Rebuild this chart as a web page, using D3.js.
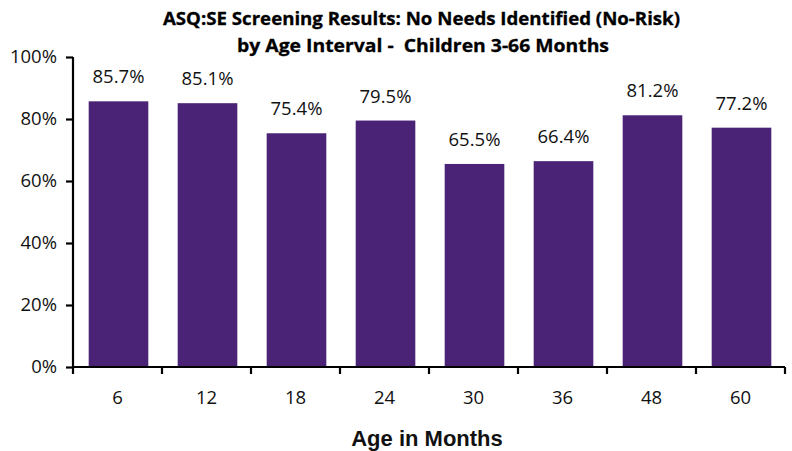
<!DOCTYPE html>
<html><head><meta charset="utf-8">
<script src="https://cdn.jsdelivr.net/npm/d3@7"></script>
<style>body{margin:0;background:#fff}svg{display:block}</style>
</head><body>
<svg id="c" width="792" height="451"></svg>
<script>
const categories = ["6","12","18","24","30","36","48","60"];
const values = [85.7,85.1,75.4,79.5,65.5,66.4,81.2,77.2];
const yTicks = [0,20,40,60,80,100];
const titleLines = ["ASQ:SE Screening Results: No Needs Identified (No-Risk)","by Age Interval -  Children 3-66 Months"];
const xTitle = "Age in Months";

const svg = d3.select("#c");
const m = {l:73, r:785, t:57, b:367};
const x = d3.scaleBand().domain(categories).range([m.l, m.r]).paddingInner(0.33).paddingOuter(0.165);
const y = d3.scaleLinear().domain([0,100]).range([m.b, m.t]);
const font = "'Open Sans', sans-serif";

svg.selectAll("rect.bar").data(values).join("rect")
  .attr("x",(d,i)=>x(categories[i])+1).attr("width",x.bandwidth())
  .attr("y",d=>y(d)).attr("height",d=>y(0)-y(d)).attr("fill","#4a2376");

svg.selectAll("text.val").data(values).join("text")
  .attr("x",(d,i)=>x(categories[i])+1+x.bandwidth()/2).attr("y",d=>y(d)-18)
  .attr("text-anchor","middle").attr("font-family",font).attr("font-size",18.5)
  .attr("fill","#111").text(d=>d.toFixed(1)+"%");

const ya = svg.append("g").attr("transform",`translate(${m.l},0)`)
  .call(d3.axisLeft(y).tickValues(yTicks).tickSize(7).tickPadding(9).tickFormat(d=>d+"%"));
ya.select(".domain").attr("stroke","#000").attr("stroke-width",2.2).attr("d",`M0,${m.t}V${m.b}`);
ya.selectAll(".tick line").attr("stroke-width",2.2);
ya.selectAll("text").attr("font-family",font).attr("font-size",18.5).attr("fill","#111");

const xa = svg.append("g").attr("transform",`translate(0,${m.b})`)
  .call(d3.axisBottom(x).tickSize(0).tickPadding(24));
xa.select(".domain").attr("stroke","#000").attr("stroke-width",2.2).attr("d",`M${m.l},0H${m.r}`);
xa.selectAll("text").attr("font-family",font).attr("font-size",18.5).attr("fill","#111");
const bounds = d3.range(categories.length+1).map(i=>m.l + i*(m.r-m.l)/categories.length);
xa.selectAll("line.bt").data(bounds).join("line").attr("class","bt")
  .attr("x1",d=>d).attr("x2",d=>d).attr("y1",0).attr("y2",7).attr("stroke","#000").attr("stroke-width",2.2);

const titleWidths = [517, 372];
svg.selectAll("text.title").data(titleLines).join("text")
  .attr("x",(d,i)=>i===0?421.5:423).attr("y",(d,i)=>25+i*27).attr("text-anchor","middle")
  .attr("font-family",font).attr("font-weight","bold").attr("font-size",17.5)
  .attr("textLength",(d,i)=>titleWidths[i]).attr("lengthAdjust","spacingAndGlyphs")
  .attr("fill","#000").attr("stroke","#000").attr("stroke-width",0.3)
  .attr("xml:space","preserve").style("white-space","pre").text(d=>d);

svg.append("text").attr("x",427).attr("y",446).attr("text-anchor","middle")
  .attr("font-family","'Liberation Sans', Arial, sans-serif").attr("font-weight","bold")
  .attr("font-size",22).attr("fill","#111").text(xTitle);
</script>
</body></html>
